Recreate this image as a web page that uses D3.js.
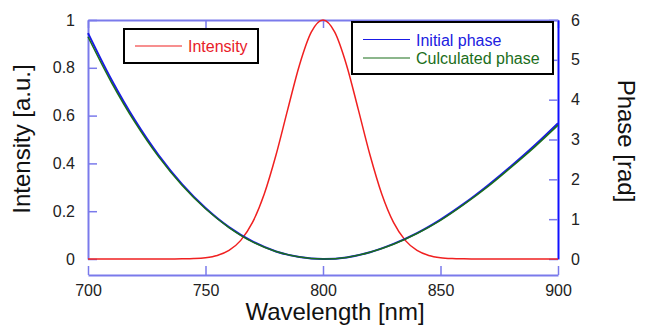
<!DOCTYPE html>
<html>
<head>
<meta charset="utf-8">
<script src="https://cdn.jsdelivr.net/npm/d3@7"></script>
<style>
  body { margin: 0; background: #fff; }
  text { font-family: "Liberation Sans", Arial, sans-serif; }
</style>
</head>
<body>
<div id="chart"></div>
<script>
// wavelength grid for the intensity (5 nm) and the phases (10 nm)
var wlIntensity = d3.range(700, 905, 5);
var intensity = [0, 0, 0, 0, 0, 0, 0,
  0.0001, 0.0006, 0.0018, 0.0055, 0.015, 0.036, 0.078, 0.153, 0.272, 0.435, 0.626, 0.812, 0.949,
  1,
  0.949, 0.812, 0.626, 0.435, 0.272, 0.153, 0.078, 0.036, 0.015, 0.0055, 0.0018, 0.0006, 0.0001,
  0, 0, 0, 0, 0, 0, 0];

var wlPhase = d3.range(700, 910, 10);
var initialPhase = [5.67, 4.50, 3.48, 2.61, 1.88, 1.28, 0.80, 0.44, 0.19, 0.05, 0,
  0.04, 0.17, 0.38, 0.65, 0.99, 1.39, 1.84, 2.33, 2.85, 3.41];
var calcPhase = [5.58, 4.43, 3.43, 2.57, 1.85, 1.26, 0.79, 0.43, 0.19, 0.05, 0,
  0.04, 0.17, 0.37, 0.64, 0.97, 1.37, 1.81, 2.30, 2.81, 3.36];

var xTicks = [700, 750, 800, 850, 900];
var leftTicks = [0, 0.2, 0.4, 0.6, 0.8, 1];
var rightTicks = [0, 1, 2, 3, 4, 5, 6];

var width = 651, height = 325;
var plotL = 88, plotR = 558, plotT = 20, plotB = 259, xAxisY = 275;
var axisCol = "#7a7aeb";

var svg = d3.select("#chart").append("svg")
    .attr("width", width)
    .attr("height", height);

var x = d3.scaleLinear().domain([700, 900]).range([plotL, plotR]);
var yL = d3.scaleLinear().domain([0, 1]).range([plotB, plotT]);
var yR = d3.scaleLinear().domain([0, 6]).range([plotB, plotT]);

function styleAxis(g, col) {
  g.selectAll("path.domain").attr("stroke", col).attr("stroke-width", 2);
  g.selectAll(".tick line").attr("stroke", axisCol).attr("stroke-width", 1.5);
  g.selectAll(".tick text").attr("fill", "#222").style("font-size", "16px");
}

// bottom axis (offset below the plot)
svg.append("g")
  .attr("transform", "translate(0," + xAxisY + ")")
  .call(d3.axisBottom(x).tickValues(xTicks).tickFormat(d3.format("d"))
    .tickSizeInner(-9).tickSizeOuter(0).tickPadding(10))
  .call(function(g){ styleAxis(g, axisCol) });

// top frame
svg.append("g")
  .attr("transform", "translate(0," + plotT + ")")
  .call(d3.axisTop(x).tickValues(xTicks).tickFormat("")
    .tickSizeInner(-8).tickSizeOuter(0))
  .call(function(g){ styleAxis(g, axisCol) });

// left axis
svg.append("g")
  .attr("transform", "translate(" + plotL + ",0)")
  .call(d3.axisLeft(yL).tickValues(leftTicks).tickFormat(function(d){ return d === 0 || d === 1 ? d : d3.format(".1f")(d) })
    .tickSizeInner(-9).tickSizeOuter(0).tickPadding(13))
  .call(function(g){ styleAxis(g, axisCol) });

// right axis
svg.append("g")
  .attr("transform", "translate(" + plotR + ",0)")
  .call(d3.axisRight(yR).tickValues(rightTicks).tickFormat(d3.format("d"))
    .tickSizeInner(-9).tickSizeOuter(0).tickPadding(13))
  .call(function(g){ styleAxis(g, "#1010ff") });

// curves
var lineI = d3.line()
  .x(function(d, i){ return x(wlIntensity[i]) })
  .y(function(d){ return yL(d) })
  .curve(d3.curveMonotoneX);
var lineP = d3.line()
  .x(function(d, i){ return x(wlPhase[i]) })
  .y(function(d){ return yR(d) })
  .curve(d3.curveCatmullRom);

svg.append("path").datum(intensity)
  .attr("d", lineI).attr("fill", "none")
  .attr("stroke", "#f02020").attr("stroke-width", 1.5);
svg.append("path").datum(initialPhase)
  .attr("d", lineP).attr("fill", "none")
  .attr("stroke", "#1a1ae6").attr("stroke-width", 2);
svg.append("path").datum(calcPhase)
  .attr("d", lineP).attr("fill", "none")
  .attr("stroke", "#1b6e1b").attr("stroke-width", 1.5);

// legends
var leg1 = svg.append("g");
leg1.append("rect").attr("x", 124).attr("y", 29).attr("width", 134).attr("height", 34)
  .attr("fill", "#fff").attr("stroke", "#000").attr("stroke-width", 2);
leg1.append("line").attr("x1", 135).attr("x2", 182).attr("y1", 46).attr("y2", 46)
  .attr("stroke", "#f02020").attr("stroke-width", 1.2);
leg1.append("text").attr("x", 188).attr("y", 51.5).text("Intensity")
  .attr("fill", "#e8202a").style("font-size", "16px");

var leg2 = svg.append("g");
leg2.append("rect").attr("x", 352).attr("y", 22).attr("width", 201).attr("height", 52)
  .attr("fill", "#fff").attr("stroke", "#000").attr("stroke-width", 2);
leg2.append("line").attr("x1", 363).attr("x2", 410).attr("y1", 39.5).attr("y2", 39.5)
  .attr("stroke", "#1a1ae6").attr("stroke-width", 1.2);
leg2.append("text").attr("x", 416).attr("y", 45.5).text("Initial phase")
  .attr("fill", "#2020e0").style("font-size", "16px");
leg2.append("line").attr("x1", 363).attr("x2", 410).attr("y1", 58).attr("y2", 58)
  .attr("stroke", "#1b6e1b").attr("stroke-width", 1.2);
leg2.append("text").attr("x", 416).attr("y", 64).text("Culculated phase")
  .attr("fill", "#1b6e1b").style("font-size", "16px");

// axis titles
svg.append("text").attr("x", 335).attr("y", 320).attr("text-anchor", "middle")
  .style("font-size", "24px").attr("fill", "#111").text("Wavelength [nm]");
svg.append("text").attr("transform", "translate(30,139) rotate(-90)")
  .attr("text-anchor", "middle").style("font-size", "24px").attr("fill", "#111")
  .text("Intensity [a.u.]");
svg.append("text").attr("transform", "translate(618,141) rotate(90)")
  .attr("text-anchor", "middle").style("font-size", "24px").attr("fill", "#111")
  .text("Phase [rad]");
</script>
</body>
</html>
